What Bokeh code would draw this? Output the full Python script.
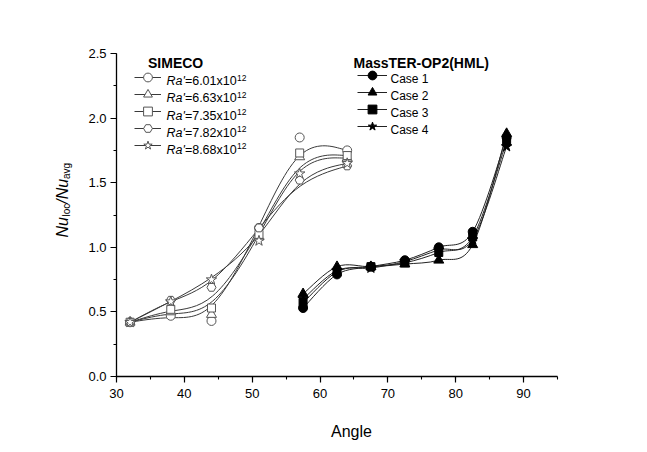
import math
from bokeh.plotting import figure
from bokeh.models import (Range1d, SingleIntervalTicker, Label, Legend, LegendItem,
                          NumeralTickFormatter, ColumnDataSource)
from bokeh.embed import file_html
from bokeh.resources import INLINE

# ---------------- data ----------------
angle_simeco = [32, 38, 44, 51, 57, 64]
ra_labels = ["6.01", "6.63", "7.35", "7.82", "8.68"]
ra601 = [0.42, 0.47, 0.43, 1.15, 1.85, 1.75]
ra663 = [0.42, 0.50, 0.48, 1.08, 1.70, 1.69]
ra735 = [0.42, 0.52, 0.53, 1.10, 1.73, 1.71]
ra782 = [0.42, 0.59, 0.69, 1.15, 1.52, 1.63]
ra868 = [0.42, 0.58, 0.75, 1.05, 1.57, 1.65]

angle_masster = [57.5, 62.5, 67.5, 72.5, 77.5, 82.5, 87.5]
case_labels = ["Case 1", "Case 2", "Case 3", "Case 4"]
case1 = [0.53, 0.79, 0.85, 0.90, 1.00, 1.12, 1.85]
case2 = [0.64, 0.85, 0.85, 0.87, 0.90, 1.02, 1.88]
case3 = [0.57, 0.81, 0.85, 0.88, 0.96, 1.08, 1.82]
case4 = [0.60, 0.82, 0.84, 0.89, 0.98, 1.06, 1.78]

x_ticks_interval = 10
y_ticks_interval = 0.5

# ---------------- layout ----------------
# the plotting frame fills the whole canvas; the axes are pinned at x=30 / y=0
# and bounded, so that titles outside the axes box are not clipped.
W, H = 631, 442
AX_L, AX_T, AX_W, AX_H = 116, 53, 441, 323   # axes box in picture pixels
X0, X1, Y0, Y1 = 30, 95, 0, 2.5
FONT = "Liberation Sans"

kx = (X1 - X0) / AX_W
ky = (Y1 - Y0) / AX_H
x_start = X0 - AX_L * kx
x_end = X0 + (W - AX_L) * kx
y_end = Y1 + AX_T * ky
y_start = Y0 - (H - AX_T - AX_H) * ky


def fx(img_x):
    return img_x


def fy(img_y):
    return H - img_y


p = figure(width=W, height=H, output_backend="svg", toolbar_location=None,
           x_range=Range1d(x_start, x_end), y_range=Range1d(y_start, y_end),
           min_border=0, background_fill_color="white", border_fill_color="white")
p.outline_line_color = None
p.grid.visible = False

p.xaxis.ticker = SingleIntervalTicker(interval=x_ticks_interval, num_minor_ticks=2)
p.yaxis.ticker = SingleIntervalTicker(interval=y_ticks_interval, num_minor_ticks=2)
p.yaxis.formatter = NumeralTickFormatter(format="0.0")
p.xaxis.fixed_location = Y0
p.yaxis.fixed_location = X0
p.xaxis.bounds = (X0, X1)
p.yaxis.bounds = (Y0, Y1)
for ax in (p.xaxis[0], p.yaxis[0]):
    ax.axis_line_color = "black"
    ax.axis_line_width = 1.3
    ax.major_tick_line_color = "black"
    ax.minor_tick_line_color = "black"
    ax.major_tick_line_width = 1.2
    ax.minor_tick_line_width = 1.1
    ax.major_tick_out = 6
    ax.major_tick_in = 0
    ax.minor_tick_out = 3
    ax.minor_tick_in = 0
    ax.major_label_text_font = FONT
    ax.major_label_text_font_size = "13px"
    ax.major_label_text_color = "black"
p.xaxis.major_label_standoff = 6
p.yaxis.major_label_standoff = 4


def bspline_segments(xs, ys):
    P = list(zip(xs, ys))
    P = [P[0]] * 2 + P + [P[-1]] * 2
    out = {k: [] for k in ("x0", "y0", "x1", "y1", "cx0", "cy0", "cx1", "cy1")}
    for i in range(len(P) - 3):
        (ax_, ay), (bx, by), (cx, cy), (dx, dy) = P[i], P[i + 1], P[i + 2], P[i + 3]
        out["x0"].append((ax_ + 4 * bx + cx) / 6)
        out["y0"].append((ay + 4 * by + cy) / 6)
        out["cx0"].append((2 * bx + cx) / 3)
        out["cy0"].append((2 * by + cy) / 3)
        out["cx1"].append((bx + 2 * cx) / 3)
        out["cy1"].append((by + 2 * cy) / 3)
        out["x1"].append((bx + 4 * cx + dx) / 6)
        out["y1"].append((by + 4 * cy + dy) / 6)
    return out


def catmull_segments(xs, ys):
    P = list(zip(xs, ys))
    P = [P[0]] + P + [P[-1]]
    out = {k: [] for k in ("x0", "y0", "x1", "y1", "cx0", "cy0", "cx1", "cy1")}
    for i in range(1, len(P) - 2):
        (ax_, ay), (bx, by), (cx, cy), (dx, dy) = P[i - 1], P[i], P[i + 1], P[i + 2]
        out["x0"].append(bx)
        out["y0"].append(by)
        out["cx0"].append(bx + (cx - ax_) / 6)
        out["cy0"].append(by + (cy - ay) / 6)
        out["cx1"].append(cx - (dx - bx) / 6)
        out["cy1"].append(cy - (dy - by) / 6)
        out["x1"].append(cx)
        out["y1"].append(cy)
    return out


LINE_SIM = "#3a3a3a"
MARK_SIM = "#555555"

sim_series = [ra601, ra663, ra735, ra782, ra868]
sim_markers = [("circle", 9), ("triangle", 10), ("square", 8), ("hex", 9), ("star", 11)]
mas_series = [case1, case2, case3, case4]
mas_markers = [("circle", 9), ("triangle", 10), ("square", 8), ("star", 11)]

sim_lines, sim_pts, mas_lines, mas_pts = [], [], [], []
for ys in sim_series:
    src = ColumnDataSource(bspline_segments(angle_simeco, ys))
    sim_lines.append(p.bezier(x0="x0", y0="y0", x1="x1", y1="y1", cx0="cx0", cy0="cy0",
                              cx1="cx1", cy1="cy1", source=src, line_color=LINE_SIM,
                              line_width=1))
for ys in mas_series:
    src = ColumnDataSource(catmull_segments(angle_masster, ys))
    mas_lines.append(p.bezier(x0="x0", y0="y0", x1="x1", y1="y1", cx0="cx0", cy0="cy0",
                              cx1="cx1", cy1="cy1", source=src, line_color="#222222",
                              line_width=1))
for ys, (m, s) in zip(sim_series, sim_markers):
    sim_pts.append(p.scatter(angle_simeco, ys, marker=m, size=s, fill_color="white",
                             line_color=MARK_SIM, line_width=1))
for ys, (m, s) in zip(mas_series, mas_markers):
    mas_pts.append(p.scatter(angle_masster, ys, marker=m, size=s, fill_color="black",
                             line_color="black", line_width=1))

# one single-item legend per row, so that rows can sit closer than the key height
KEY_H = 22
common = dict(orientation="vertical", glyph_height=KEY_H, label_height=KEY_H, spacing=0,
              padding=0, margin=0, background_fill_alpha=0, border_line_alpha=0,
              label_text_font_size="1px", label_standoff=0, label_width=1)
for i, (l, s) in enumerate(zip(sim_lines, sim_pts)):
    cy = 76.8 + 17.1 * i
    p.add_layout(Legend(items=[LegendItem(label=" ", renderers=[l, s])],
                        location=(fx(134), fy(cy + KEY_H / 2)), glyph_width=27, **common))
for i, (l, s) in enumerate(zip(mas_lines, mas_pts)):
    cy = 75.0 + 16.95 * i
    p.add_layout(Legend(items=[LegendItem(label=" ", renderers=[l, s])],
                        location=(fx(356.5), fy(cy + KEY_H / 2)), glyph_width=30, **common))


def lab(img_x, img_y, text, size, style="normal", align="left", angle=0.0):
    p.add_layout(Label(x=fx(img_x), y=fy(img_y), x_units="screen", y_units="screen",
                       text=text, text_font=FONT,
                       text_font_size=size, text_font_style=style, text_align=align,
                       text_baseline="alphabetic", text_color="black", angle=angle))


# legend titles
lab(147.5, 62.5, "SIMECO", "14px", "bold")
lab(353, 62.5, "MassTER-OP2(HML)", "14px", "bold")

# SIMECO legend texts
for i, v in enumerate(ra_labels):
    base = 80.8 + 17.1 * i
    lab(166, base, "Ra'", "12.5px", "italic")
    lab(184.4, base, "=" + v + "x10", "12.5px")
    lab(236.6, base - 3.5, "12", "8.5px")

# MassTER legend texts
for i, t in enumerate(case_labels):
    lab(390, 78.9 + 16.95 * i, t, "12px")

# x axis title
lab(351, 431, "Angle", "16px", align="center")

# y axis title (rotated)
rot = math.pi / 2
lab(61.5, 237, "Nu", "16px", "italic", angle=rot)
lab(66, 216, "loc", "10px", angle=rot)
lab(61.5, 203.2, "/Nu", "16px", "italic", angle=rot)
lab(66, 178.5, "avg", "10px", angle=rot)

open("out.html", "w").write(file_html(p, INLINE))
